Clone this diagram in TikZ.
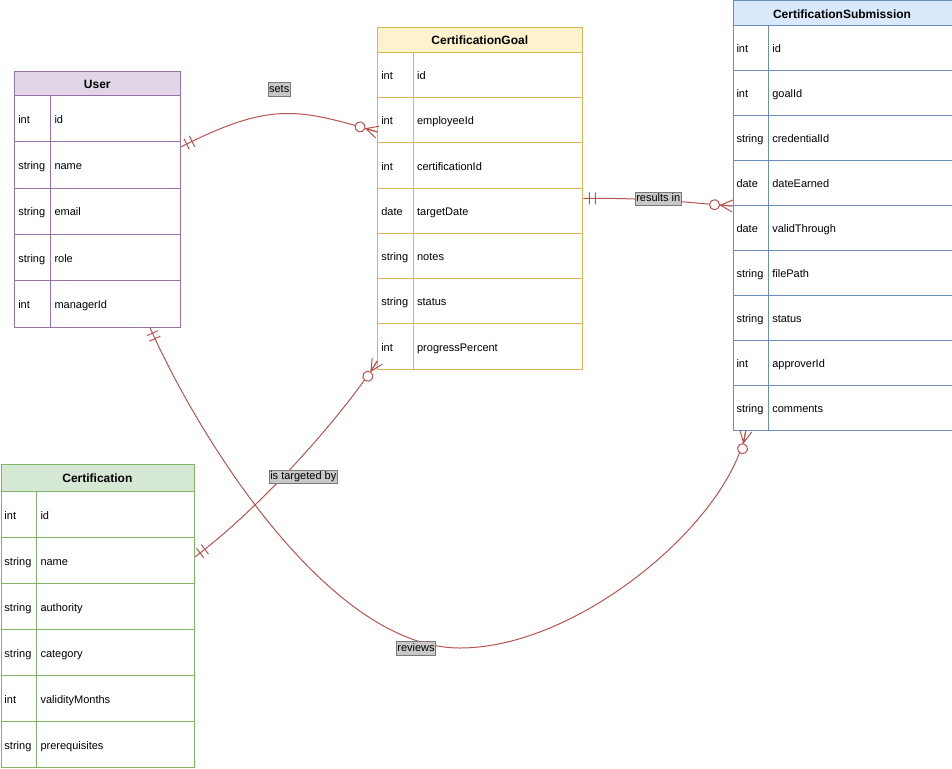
\documentclass[tikz,border=0pt]{standalone}
\usepackage{fontspec}
\setmainfont{Liberation Sans}
\usetikzlibrary{decorations.markings,calc}

\definecolor{userfill}{HTML}{E1D5E7}\definecolor{userline}{HTML}{9673A6}
\definecolor{goalfill}{HTML}{FFF2CC}\definecolor{goalline}{HTML}{D6B656}
\definecolor{subfill}{HTML}{DAE8FC}\definecolor{subline}{HTML}{6C8EBF}
\definecolor{certfill}{HTML}{D5E8D4}\definecolor{certline}{HTML}{82B366}
\definecolor{relline}{HTML}{B85450}
\definecolor{tagfill}{HTML}{C8C8C8}\definecolor{tagline}{HTML}{7A7A7A}

\tikzset{
  tabtitle/.style={font=\fontsize{12}{14}\selectfont\bfseries, anchor=base, inner sep=0pt},
  celltext/.style={font=\fontsize{11}{13}\selectfont, anchor=base west, inner sep=0pt},
  tag/.style={fill=tagfill, draw=tagline, line width=0.8pt, font=\fontsize{11}{13}\selectfont,
    inner xsep=1pt, inner ysep=1.3pt, text height=8.2pt, text depth=2.4pt},
  rel/.style={draw=relline, line width=1pt},
  mandone/.style={postaction={decorate, decoration={markings,
    mark=at position 0 with {\draw[relline, line width=1pt] (6,-6) -- (6,6) (12,-6) -- (12,6);}}}},
  zeromany/.style={postaction={decorate, decoration={markings,
    mark=at position 1 with {\draw[relline, line width=1pt] (0,6) -- (-12,0) -- (0,-6) (-12,0) -- (0,0);
      \draw[relline, line width=1pt, fill=white] (-18,0) circle[radius=5];}}}},
}

% entity table: #1 name, #2 colour prefix, #3 left, #4 top, #5 width, #6 rows, #7 title, #8 type/field list
% header height, row height and type column width come from \erhead, \errow, \erdiv
\newcommand\ertable[8]{%
  \pgfmathsetmacro\erbot{#4+\erhead+#6*\errow}
  \pgfmathsetmacro\erright{#3+#5}
  \pgfmathsetmacro\erhb{#4+\erhead}
  \pgfmathsetmacro\erdx{#3+\erdiv}
  \pgfmathsetmacro\ertall{\erbot-#4}
  \fill[#2fill] (#3,#4) rectangle (\erright,\erhb);
  \node[tabtitle] (#1-title) at ({#3+#5/2},{#4+\erhead/2+5}) {#7};
  \foreach \ty/\fd [count=\i] in {#8}{%
    \pgfmathsetmacro\rtop{\erhb+(\i-1)*\errow}
    \pgfmathsetmacro\rbase{\rtop+\errow/2+4.7}
    \draw[#2line, line width=1pt] (#3,\rtop) -- (\erright,\rtop);
    \node[celltext] (#1-t\i) at ({#3+3.8},\rbase) {\ty};
    \node[celltext] (#1-f\i) at ({\erdx+3.6},\rbase) {\fd};
  }
  \draw[#2line, line width=1pt] (\erdx,\erhb) -- (\erdx,\erbot);
  \node[draw=#2line, line width=1pt, inner sep=0pt, minimum width=#5pt,
    minimum height=\ertall pt, anchor=north west] (#1) at (#3,#4) {};
}

\begin{document}
\begin{tikzpicture}[x=1pt, y=-1pt]
\useasboundingbox (0,0) rectangle (952,768);

\def\erhead{25}\def\errow{46.2}\def\erdiv{36.4}
\ertable{user}{user}{14.3}{70.7}{166}{5}{User}
  {int/id, string/name, string/email, string/role, int/managerId}

\def\erhead{25.3}\def\errow{45.25}\def\erdiv{36}
\ertable{goal}{goal}{377.3}{27}{205}{7}{CertificationGoal}
  {int/id, int/employeeId, int/certificationId, date/targetDate, string/notes, string/status, int/progressPercent}

\def\erhead{25.2}\def\errow{44.92}\def\erdiv{36}
\ertable{sub}{sub}{732.5}{0.5}{219}{9}{CertificationSubmission}
  {int/id, int/goalId, string/credentialId, date/dateEarned, date/validThrough, string/filePath, string/status, int/approverId, string/comments}

\def\erhead{27.3}\def\errow{46}\def\erdiv{36.2}
\ertable{cert}{cert}{0.5}{464}{193.8}{6}{Certification}
  {int/id, string/name, string/authority, string/category, int/validityMonths, string/prerequisites}

% connector end points on the entity borders
\coordinate (setsA) at ([yshift=-76pt]user.north east);
\coordinate (setsB) at ([yshift=-105pt]goal.north west);
\coordinate (resA) at ([yshift=-171.3pt]goal.north east);
\coordinate (resB) at ([yshift=-205.5pt]sub.north west);
\coordinate (tgtA) at ([yshift=-92.7pt]cert.north east);
\coordinate (tgtB) at ([yshift=-334pt]goal.north west);
\coordinate (revA) at ([xshift=135.7pt]user.south west);
\coordinate (revB) at ([xshift=13.2pt]sub.south west);

% relationships
\draw[rel, mandone, zeromany] (setsA) .. controls (270,102) and (297,108) .. (setsB);
\draw[rel, mandone, zeromany] (resA) .. controls (660,198) and (690,203) .. (resB);
\draw[rel, mandone, zeromany] (tgtA) .. controls (270,500) and (350,405) .. (tgtB);
\draw[rel, mandone, zeromany] (revA) .. controls (200,440) and (330,648) .. (460,648)
  .. controls (580,648) and (730,520) .. (revB);

% relationship labels
\node[tag] (lsets) at (279.2,89.3) {sets};
\node[tag] (lres) at (658.3,198.5) {results in};
\node[tag] (ltgt) at (303.3,476.7) {is targeted by};
\node[tag] (lrev) at (416,648.3) {reviews};
\end{tikzpicture}
\end{document}
